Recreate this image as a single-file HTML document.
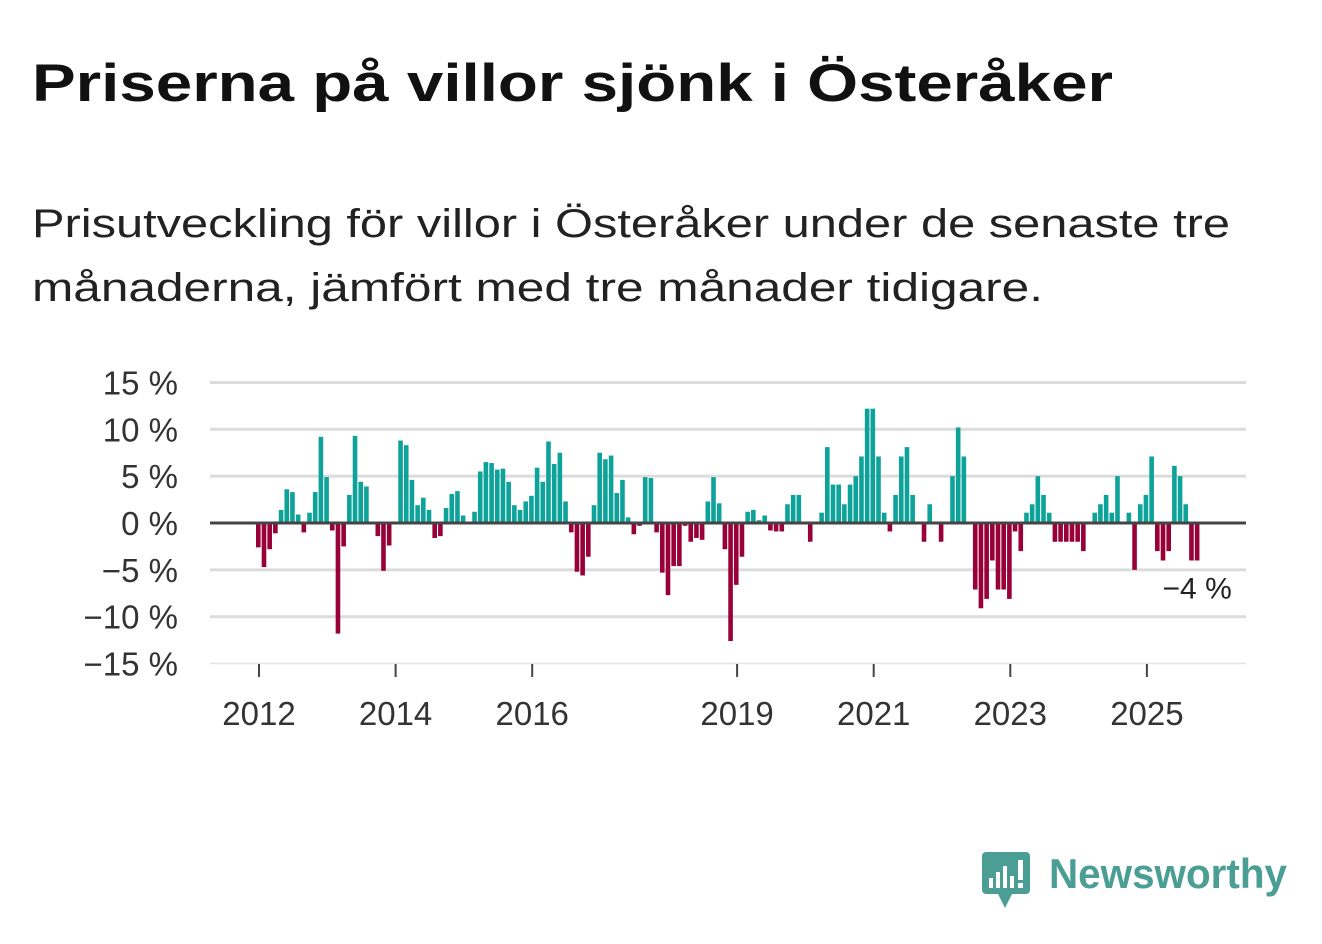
<!DOCTYPE html>
<html><head><meta charset="utf-8"><style>
body{margin:0;background:#fff;width:1322px;height:939px;overflow:hidden;font-family:"Liberation Sans",sans-serif}
</style></head><body>
<svg width="1322" height="939" xmlns="http://www.w3.org/2000/svg">
<text x="32" y="101" font-size="53" font-weight="bold" fill="#111" textLength="1081" lengthAdjust="spacingAndGlyphs">Priserna på villor sjönk i Österåker</text>
<text x="32" y="237" font-size="40" fill="#222" textLength="1198" lengthAdjust="spacingAndGlyphs">Prisutveckling för villor i Österåker under de senaste tre</text>
<text x="32" y="301" font-size="40" fill="#222" textLength="1011" lengthAdjust="spacingAndGlyphs">månaderna, jämfört med tre månader tidigare.</text>
<g id="grid"></g><g id="bars"></g><g id="axes"></g>
<g>
<rect x="982" y="852" width="48" height="42" rx="4" fill="#4a9e94"/>
<polygon points="998,894 1012,894 1005,908" fill="#4a9e94"/>
<rect x="989" y="878" width="4" height="10" fill="#fff"/><rect x="996" y="872" width="4" height="16" fill="#fff"/><rect x="1003" y="866" width="4" height="22" fill="#fff"/><rect x="1010" y="876" width="4" height="12" fill="#fff"/><rect x="1018" y="860" width="5" height="20" fill="#fff"/><rect x="1018" y="883" width="5" height="5" fill="#fff"/>
<text x="1049" y="888" font-size="42" font-weight="bold" fill="#4a9e94" textLength="238" lengthAdjust="spacingAndGlyphs">Newsworthy</text>
</g>
</svg>
<script>
const values=[-2.6,-4.7,-2.8,-1.1,1.4,3.6,3.3,0.9,-1.0,1.1,3.3,9.2,4.9,-0.8,-11.8,-2.5,3.0,9.3,4.4,3.9,0,-1.4,-5.1,-2.4,0,8.8,8.3,4.6,1.9,2.7,1.4,-1.6,-1.4,1.6,3.1,3.4,0.8,0,1.2,5.5,6.5,6.4,
5.7,5.8,4.4,1.9,1.4,2.3,2.9,5.9,4.4,8.7,6.3,7.5,2.3,-1.0,-5.2,-5.6,-3.6,1.9,7.5,6.8,7.2,3.2,4.6,0.6,-1.2,-0.3,4.9,4.8,-1.0,-5.3,-7.7,-4.6,-4.6,-0.3,-2.0,-1.6,-1.8,2.3,4.9,2.1,-2.8,-12.6,-6.6,-3.6,
1.2,1.4,0.3,0.8,-0.8,-0.9,-0.9,2.0,3.0,3.0,0,-2.0,0,1.1,8.1,4.1,4.1,2.0,4.1,5.0,7.1,12.2,12.2,7.1,1.1,-0.9,3.0,7.1,8.1,3.0,0,-2.0,2.0,0,-2.0,0,5.0,10.2,7.1,0,-7.1,-9.1,-8.1,-4.0,
-7.1,-7.1,-8.1,-0.9,-3.0,1.1,2.0,5.0,3.0,1.1,-2,-2,-2,-2,-2,-3.0,0,1.1,2.0,3.0,1.1,5.0,0,1.1,-5.0,2.0,3.0,7.1,-3.0,-4.0,-3.0,6.1,5.0,2.0,-4.0,-4.0];
const yTicks=[15,10,5,0,-5,-10,-15];
const yTickLabels=["15 %","10 %","5 %","0 %","−5 %","−10 %","−15 %"];
const xYears=[2012,2014,2016,2019,2021,2023,2025];
const startYear=2012;
const lastLabel="−4 %";
const NS="http://www.w3.org/2000/svg";
const y=v=>523-v*9.37;
const xb=i=>258.3+i*5.69;
const xy=yr=>259+(yr-startYear)*68.3;
function mk(t,a,p){const e=document.createElementNS(NS,t);for(const k in a)e.setAttribute(k,a[k]);p.appendChild(e);return e;}
const grid=document.getElementById('grid'),bars=document.getElementById('bars'),axes=document.getElementById('axes');
yTicks.forEach((v,i)=>{
 if(v!==0){const l=mk('line',{x1:210,x2:1246,y1:y(v),y2:y(v),stroke:v===-15?'#e4e4e4':'#dcdcdc','stroke-width':v===-15?1.5:3},grid);
 
 }
 const t=mk('text',{x:178,y:y(v)+12,'font-size':33,'text-anchor':'end',fill:'#333'},axes);t.textContent=yTickLabels[i];
 
 
});
values.forEach((v,i)=>{
 if(v===0)return;
 const r=mk('rect',{x:xb(i)-2.3,width:4.6,y:Math.min(y(v),523),height:Math.abs(y(v)-523),fill:v>0?'#0ea39a':'#990038'},bars);
 
 
});
const z=mk('line',{x1:210,x2:1246,y1:523,y2:523,stroke:'#444','stroke-width':3},axes);


xYears.forEach(yr=>{
 const tk=mk('line',{x1:xy(yr),x2:xy(yr),y1:664,y2:677,stroke:'#444','stroke-width':2},axes);
 
 
 const t=mk('text',{x:xy(yr),y:725,'font-size':33,'text-anchor':'middle',fill:'#333'},axes);t.textContent=yr;
 
 
});
const lx=xb(values.length-1);
const lb=mk('text',{x:lx,y:y(values[values.length-1])+38,'font-size':30,'text-anchor':'middle',fill:'#222',stroke:'#fff','stroke-width':6,'paint-order':'stroke'},axes);
lb.textContent=lastLabel;


</script>
</body></html>
